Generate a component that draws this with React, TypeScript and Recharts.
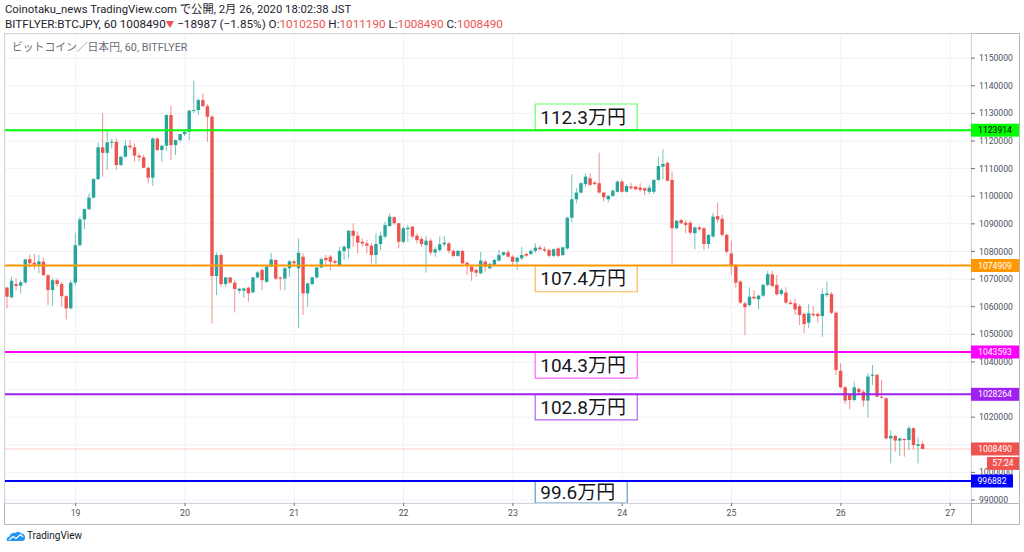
import React from 'react';
import { ComposedChart, Bar, XAxis, YAxis, CartesianGrid, ReferenceLine, ReferenceArea } from 'recharts';

// hourly candles, BITFLYER BTCJPY 60, first candle Feb 18 09:00 JST (hour 9 counted from Feb 18 00:00)
const FIRST_HOUR = 9;

const opens = [
  1066900, 1063400, 1068200, 1067600, 1068800, 1077200, 1075900, 1075200, 1076300, 1071400,
  1066000, 1069600, 1068200, 1063800, 1059400, 1068700, 1082300, 1091600, 1095300, 1099500,
  1106200, 1117700, 1115700, 1119500, 1119700, 1111300, 1114300, 1118300, 1117700, 1114700,
  1114100, 1110300, 1106700, 1120900, 1116700, 1118300, 1129400, 1118500, 1120300, 1122500,
  1123300, 1131000, 1131200, 1134800, 1132600, 1128800, 1071100, 1078700, 1068200, 1070600,
  1068700, 1065800, 1065800, 1066900, 1065200, 1070600, 1073300, 1069000, 1074500, 1076900,
  1070600, 1070200, 1073900, 1076400, 1073900, 1078100, 1064800, 1068200, 1070600, 1074200,
  1077700, 1078100, 1076500, 1075100, 1080200, 1081100, 1087500, 1085700, 1083500, 1082900,
  1082100, 1078700, 1082700, 1085400, 1089200, 1092400, 1090200, 1083500, 1088100, 1089000,
  1085700, 1084500, 1082300, 1083900, 1079600, 1080500, 1082600, 1082900, 1080200, 1078400,
  1080200, 1075900, 1074500, 1073300, 1072100, 1076300, 1073900, 1075100, 1076700, 1078700,
  1079700, 1078100, 1076300, 1077500, 1079100, 1079100, 1080200, 1081400, 1080800, 1080500,
  1078400, 1081100, 1078700, 1081100, 1092200, 1098900, 1101300, 1104400, 1106500, 1104900,
  1104700, 1101300, 1098900, 1100100, 1101600, 1105300, 1101600, 1103500, 1103500, 1103100,
  1102900, 1101600, 1101600, 1105900, 1110700, 1112100, 1105900, 1088400, 1091400, 1090400,
  1090400, 1086600, 1088700, 1088400, 1082700, 1085400, 1092800, 1091800, 1086000, 1079300,
  1075100, 1069100, 1061200, 1060600, 1063600, 1062700, 1064000, 1067900, 1071700, 1067900,
  1064600, 1065100, 1061500, 1061200, 1060200, 1057400, 1054200, 1057400, 1057400, 1056600,
  1064200, 1064600, 1057800, 1036800, 1030800, 1028000, 1026200, 1030200, 1029200, 1026000,
  1035000, 1035300, 1027400, 1026800, 1012300, 1013200, 1011500, 1012100, 1011700, 1016000,
  1009600, 1010250,
];

const highs = [
  1067200, 1070800, 1070200, 1069600, 1077500, 1078900, 1079100, 1078700, 1077800, 1071800,
  1070200, 1070200, 1069000, 1064200, 1069600, 1086800, 1092600, 1095600, 1101000, 1106500,
  1119400, 1130000, 1123700, 1120900, 1120900, 1114500, 1120300, 1120300, 1119100, 1115500,
  1114900, 1110700, 1121300, 1121300, 1118500, 1129700, 1132800, 1120600, 1122700, 1123700,
  1131200, 1141800, 1135500, 1137200, 1133400, 1129400, 1079700, 1079300, 1070800, 1070800,
  1069600, 1066900, 1066900, 1067200, 1070900, 1073000, 1073900, 1075100, 1079500, 1077100,
  1070800, 1074500, 1076900, 1076900, 1084700, 1079300, 1068800, 1070800, 1074500, 1077800,
  1078700, 1078700, 1077100, 1081700, 1082300, 1087800, 1090200, 1087200, 1084700, 1084100,
  1082900, 1086600, 1087200, 1090800, 1093800, 1092800, 1090400, 1089000, 1089600, 1089200,
  1086600, 1085400, 1085600, 1084700, 1081700, 1085400, 1085600, 1083500, 1080800, 1080500,
  1080500, 1076300, 1075100, 1073900, 1079900, 1076900, 1075900, 1077500, 1080500, 1079900,
  1080500, 1078700, 1078100, 1081700, 1079600, 1080800, 1082900, 1082300, 1081700, 1081100,
  1081000, 1081500, 1081700, 1092600, 1108000, 1102900, 1105000, 1108300, 1108300, 1105500,
  1115800, 1101600, 1100500, 1102500, 1105700, 1105900, 1104300, 1104900, 1103800, 1104700,
  1103300, 1104100, 1106100, 1114300, 1117000, 1112500, 1108900, 1091500, 1091700, 1091400,
  1091100, 1089000, 1089300, 1088800, 1086300, 1094000, 1097700, 1093200, 1086600, 1083900,
  1075500, 1069500, 1061800, 1067000, 1066000, 1064300, 1068300, 1073000, 1073000, 1071500,
  1066800, 1067000, 1062400, 1063000, 1060900, 1057800, 1061000, 1060200, 1057900, 1066600,
  1069100, 1065300, 1058300, 1039500, 1031300, 1028600, 1032800, 1030800, 1029800, 1035900,
  1038900, 1035800, 1033500, 1027300, 1015300, 1013600, 1012600, 1012300, 1016800, 1016400,
  1012700, 1011190,
];

const lows = [
  1059400, 1063000, 1066000, 1064800, 1068400, 1073900, 1073500, 1072100, 1071100, 1060600,
  1060300, 1067200, 1060200, 1055400, 1059000, 1067800, 1081700, 1088000, 1095000, 1099200,
  1105800, 1107000, 1109500, 1117300, 1109500, 1110900, 1114100, 1116700, 1112500, 1112500,
  1110100, 1104600, 1103700, 1116500, 1112500, 1116500, 1113100, 1114900, 1119700, 1121800,
  1120300, 1130200, 1129500, 1132400, 1119700, 1053900, 1064200, 1067200, 1067200, 1068400,
  1057900, 1064800, 1063200, 1061800, 1064800, 1070200, 1066000, 1068700, 1074200, 1069600,
  1066000, 1066000, 1070800, 1074500, 1052100, 1057000, 1060000, 1067800, 1070200, 1073900,
  1074500, 1073300, 1075500, 1074500, 1076900, 1077500, 1081700, 1079300, 1081700, 1079300,
  1075700, 1075100, 1080500, 1084700, 1089000, 1089600, 1081100, 1082900, 1083500, 1084700,
  1082900, 1081700, 1072300, 1078700, 1078100, 1079900, 1081700, 1079300, 1077900, 1078100,
  1075500, 1071500, 1069400, 1070900, 1071700, 1072700, 1073500, 1074700, 1076300, 1078400,
  1077900, 1074500, 1073300, 1076900, 1078100, 1078700, 1079600, 1080300, 1079800, 1077900,
  1078000, 1077900, 1078400, 1080500, 1090500, 1097400, 1101000, 1103500, 1103500, 1104000,
  1101000, 1098000, 1097700, 1099800, 1101300, 1101300, 1101300, 1102300, 1102200, 1101600,
  1100400, 1100700, 1100800, 1105500, 1106100, 1105300, 1075100, 1088000, 1089900, 1086600,
  1086000, 1080800, 1087500, 1080500, 1081100, 1085000, 1090500, 1085400, 1079300, 1071500,
  1067000, 1061000, 1049700, 1060000, 1062700, 1059000, 1063500, 1067300, 1067000, 1064000,
  1064000, 1061000, 1060600, 1057000, 1053400, 1050400, 1052200, 1056300, 1054200, 1049100,
  1063500, 1057300, 1035300, 1030500, 1024800, 1022800, 1025600, 1028400, 1023800, 1019900,
  1031600, 1027200, 1026800, 1012000, 1003300, 1007500, 1005900, 1005700, 1008100, 1008300,
  1003300, 1008490,
];

const closes = [
  1063600, 1069400, 1067500, 1068800, 1077100, 1075700, 1075200, 1076400, 1071400, 1066000,
  1069600, 1068200, 1063800, 1059400, 1068700, 1082300, 1091600, 1095300, 1099500, 1106200,
  1117700, 1115700, 1119500, 1119700, 1111300, 1114300, 1118300, 1117700, 1114700, 1114100,
  1110300, 1106700, 1120900, 1116700, 1118300, 1129400, 1118500, 1120300, 1122500, 1123300,
  1131000, 1131200, 1134800, 1132600, 1128800, 1071100, 1078700, 1068200, 1070600, 1068700,
  1066400, 1066500, 1066600, 1064800, 1070600, 1072400, 1069600, 1074500, 1077100, 1070200,
  1070200, 1073900, 1076400, 1075700, 1079500, 1064800, 1068400, 1070600, 1074200, 1077200,
  1076900, 1076300, 1075900, 1080200, 1081700, 1087500, 1085700, 1083200, 1082900, 1082100,
  1078700, 1082700, 1085700, 1089600, 1092600, 1090200, 1083500, 1088400, 1088600, 1085400,
  1084100, 1082700, 1083900, 1079600, 1080800, 1082600, 1083200, 1080200, 1078400, 1080200,
  1075700, 1074700, 1072700, 1072300, 1076700, 1074500, 1075500, 1076900, 1078700, 1079700,
  1078100, 1076300, 1077700, 1078700, 1078500, 1080200, 1081400, 1080800, 1080300, 1078400,
  1080800, 1078400, 1081500, 1092200, 1098900, 1101300, 1104700, 1107100, 1104100, 1104400,
  1101300, 1099600, 1100100, 1102000, 1105300, 1101600, 1103700, 1102900, 1102500, 1102300,
  1102000, 1103100, 1105900, 1110900, 1111700, 1105600, 1088400, 1091100, 1090200, 1089600,
  1086800, 1088700, 1088000, 1082700, 1086000, 1092600, 1091600, 1086000, 1079900, 1075100,
  1068700, 1061500, 1059800, 1063600, 1063000, 1064000, 1067900, 1071800, 1067500, 1064500,
  1066000, 1061500, 1061000, 1059000, 1057000, 1053700, 1057600, 1056900, 1056600, 1064600,
  1064800, 1057800, 1037100, 1030800, 1026000, 1026200, 1030800, 1029000, 1026000, 1034700,
  1035400, 1027400, 1027200, 1012300, 1013200, 1011500, 1012300, 1011700, 1016000, 1009900,
  1010200, 1008490,
];

const dayTicks = [24, 48, 72, 96, 120, 144, 168, 192, 216];
const dayLabels = ['19', '20', '21', '22', '23', '24', '25', '26', '27'];
const priceTicks = [
  990000, 1000000, 1010000, 1020000, 1030000, 1040000, 1050000, 1060000, 1070000,
  1080000, 1090000, 1100000, 1110000, 1120000, 1130000, 1140000, 1150000,
];

const levelValues = [1123914, 1074909, 1043593, 1028264, 996882];
const levelTags = ['1123914', '1074909', '1043593', '1028264', '996882'];
const noteTexts = ['112.3万円', '107.4万円', '104.3万円', '102.8万円', '99.6万円'];
const lastPrice = 1008490;
const countdown = '57:24';

// styles / geometry (not data)
const X_DOMAIN: [number, number] = [8.5, 220.57];
const Y_DOMAIN: [number, number] = [988914, 1158739];
const LEVEL_COLORS = ['#00ff00', '#ff9800', '#ff00ff', '#a020f0', '#0000ff'];
const TAG_TEXT = ['#000000', '#ffffff', '#ffffff', '#ffffff', '#ffffff'];
const TAG_WIDTH = [48, 48, 48, 48, 42];
const NOTE_BORDERS = ['#66ff66', '#ffb74d', '#ff66ff', '#b366f5', '#5b9bd5'];
const NOTE_Y1 = [1123914, 1074909, 1043593, 1028264, 996882];
const NOTE_Y2 = [1133400, 1065400, 1034100, 1019000, 988914];
const NOTE_X1 = [124.9, 124.9, 124.9, 124.9, 124.9];
const NOTE_X2 = [147.3, 147.3, 147.3, 147.3, 145.1];
// a tick label lying under a price tag is covered by it (as in TradingView)
const TAG_HALF_SPAN = 2600;

const UP = '#26a69a';
const DOWN = '#ef5350';
const FONT = 'Roboto, "Noto Sans CJK JP", "DejaVu Sans", sans-serif';

const data = opens.map((o, i) => ({
  t: FIRST_HOUR + i,
  o,
  h: highs[i],
  l: lows[i],
  c: closes[i],
  range: [lows[i], highs[i]],
}));

const taggedValues = [...levelValues, lastPrice];

const PriceTick = (props: any) => {
  const { x, y, payload } = props;
  const v = payload?.value;
  if (v == null) return <g />;
  const covered = taggedValues.some((lv) => Math.abs(lv - v) < TAG_HALF_SPAN);
  if (covered) return <g />;
  return (
    <text x={x} y={y} dy="0.355em" textAnchor="start" fontSize={8.6} fill="#4c525e" fontFamily={FONT}>
      {String(v)}
    </text>
  );
};

const Candle = (props: any) => {
  const { x, y, width, height, payload } = props;
  if (!payload || x == null || y == null) return null;
  const { o, h, l, c } = payload;
  const top = Math.min(y, y + height);
  const bot = Math.max(y, y + height);
  const span = h - l;
  const pix = (v: number) => (span === 0 ? top : top + ((h - v) / span) * (bot - top));
  const cx = x + width / 2;
  const color = c >= o ? UP : DOWN;
  const yo = pix(o);
  const yc = pix(c);
  const bt = Math.min(yo, yc);
  const bh = Math.max(1, Math.abs(yc - yo));
  return (
    <g>
      <line x1={cx} x2={cx} y1={top} y2={bot} stroke={color} strokeOpacity={0.65} strokeWidth={1} />
      <rect x={cx - 1.7} y={bt} width={3.4} height={bh} fill={color} />
    </g>
  );
};

const Tag = (props: any) => {
  const { viewBox, text, bg, fg, w, extra } = props;
  if (!viewBox) return null;
  const left = viewBox.x + viewBox.width;
  const cy = viewBox.y;
  return (
    <g>
      <rect x={left} y={cy - 6.5} width={w} height={13} fill={bg} />
      <text x={left + w / 2} y={cy} dy="0.35em" textAnchor="middle" fontSize={8.6} fill={fg} fontFamily={FONT}>
        {text}
      </text>
      {extra ? (
        <g>
          <rect x={left + 16} y={cy + 8} width={32} height={13} fill={bg} />
          <text x={left + 32} y={cy + 14.5} dy="0.35em" textAnchor="middle" fontSize={8.6} fill={fg} fontFamily={FONT}>
            {extra}
          </text>
        </g>
      ) : null}
    </g>
  );
};

const Logo = () => (
  <svg width={20} height={12} viewBox="0 0 20 12" style={{ position: 'absolute', left: 6, top: 530 }}>
    <path d="M1 11 Q0 7 3.5 6.5 Q5 2 9.5 3 Q12.5 0.5 15.5 3.5 Q19.5 4 19 8 Q19 11 16 11 Z" fill="#2196f3" />
    <path d="M3 10 L7 6.5 L10 8.5 L14.5 4.5 L17 7" stroke="#ffffff" strokeWidth={1.2} fill="none" />
  </svg>
);

export default function App() {
  return (
    <div
      style={{
        position: 'relative',
        width: 1024,
        height: 552,
        overflow: 'hidden',
        background: '#ffffff',
        fontFamily: FONT,
      }}
    >
      <style>{'body{margin:0;}'}</style>
      <div style={{ position: 'absolute', left: 5, top: 3, fontSize: 11.3, lineHeight: '14px', color: '#1e222d', whiteSpace: 'nowrap' }}>
        Coinotaku_news TradingView.com で公開, 2月 26, 2020 18:02:38 JST
      </div>
      <div style={{ position: 'absolute', left: 5, top: 17, fontSize: 11.7, lineHeight: '14px', color: '#1e222d', whiteSpace: 'nowrap' }}>
        BITFLYER:BTCJPY, 60 1008490<span style={{ color: DOWN, fontSize: 8.5, verticalAlign: 'top' }}>▼</span> −18987 (−1.85%) O:
        <span style={{ color: DOWN }}>1010250</span> H:<span style={{ color: DOWN }}>1011190</span> L:
        <span style={{ color: DOWN }}>1008490</span> C:<span style={{ color: DOWN }}>1008490</span>
      </div>
      <div
        style={{
          position: 'absolute',
          left: 4,
          top: 33,
          width: 1016,
          height: 492,
          boxSizing: 'border-box',
          border: '1.5px solid #b4b7bf',
        }}
      />
      <div style={{ position: 'absolute', left: 970.5, top: 33, width: 1.2, height: 492, background: '#b4b7bf' }} />
      <div style={{ position: 'absolute', left: 4, top: 502.6, width: 1016, height: 1.2, background: '#b4b7bf' }} />
      <div style={{ position: 'absolute', left: 0, top: 0 }}>
        <ComposedChart width={1024} height={552} data={data} margin={{ top: 34, right: 5, bottom: 28, left: 5 }}>
          <CartesianGrid stroke="#eef1f7" strokeWidth={1} />
          <XAxis
            dataKey="t"
            type="number"
            domain={X_DOMAIN}
            allowDataOverflow
            ticks={dayTicks}
            interval={0}
            tickFormatter={(v: number) => dayLabels[dayTicks.indexOf(v)] ?? ''}
            axisLine={false}
            tickLine={{ stroke: '#6b6f7a' }}
            tickSize={3}
            tickMargin={4}
            height={21}
            tick={{ fontSize: 8.8, fill: '#4c525e', fontFamily: FONT }}
          />
          <YAxis
            orientation="right"
            type="number"
            domain={Y_DOMAIN}
            allowDataOverflow
            ticks={priceTicks}
            interval={0}
            width={48}
            axisLine={false}
            tickLine={{ stroke: '#6b6f7a' }}
            tickSize={4}
            tickMargin={4}
            tick={<PriceTick />}
          />
          <Bar dataKey="range" barSize={4} shape={Candle} isAnimationActive={false} />
          {noteTexts.map((txt, i) => (
            <ReferenceArea
              key={'nt' + i}
              x1={NOTE_X1[i]}
              x2={NOTE_X2[i]}
              y1={NOTE_Y1[i]}
              y2={NOTE_Y2[i]}
              fill="#ffffff"
              fillOpacity={1}
              stroke={NOTE_BORDERS[i]}
              strokeWidth={1.2}
              ifOverflow="hidden"
              label={{ value: txt, position: 'insideLeft', offset: 5, fontSize: 19, fill: '#131722', fontFamily: FONT }}
            />
          ))}
        </ComposedChart>
      </div>
      {/* overlay chart sharing the same scales: level lines and their price tags drawn above the axis */}
      <div style={{ position: 'absolute', left: 0, top: 0 }}>
        <ComposedChart width={1024} height={552} data={data} margin={{ top: 34, right: 53, bottom: 49, left: 5 }}>
          <XAxis dataKey="t" type="number" domain={X_DOMAIN} allowDataOverflow hide />
          <YAxis type="number" domain={Y_DOMAIN} allowDataOverflow hide />
          <ReferenceLine
            y={lastPrice}
            stroke={DOWN}
            strokeOpacity={0.3}
            strokeWidth={1}
            label={<Tag text={String(lastPrice)} bg={DOWN} fg="#ffffff" w={48} extra={countdown} />}
          />
          {levelValues.map((v, i) => (
            <ReferenceLine
              key={'lv' + i}
              y={v}
              stroke={LEVEL_COLORS[i]}
              strokeWidth={2}
              label={<Tag text={levelTags[i]} bg={LEVEL_COLORS[i]} fg={TAG_TEXT[i]} w={TAG_WIDTH[i]} />}
            />
          ))}
        </ComposedChart>
      </div>
      <div style={{ position: 'absolute', left: 12, top: 41, fontSize: 10.8, lineHeight: '13px', color: '#6a6d78', whiteSpace: 'nowrap' }}>
        ビットコイン／日本円, 60, BITFLYER
      </div>
      <Logo />
      <div style={{ position: 'absolute', left: 27, top: 529, fontSize: 10, lineHeight: '13px', color: '#131722' }}>TradingView</div>
    </div>
  );
}
